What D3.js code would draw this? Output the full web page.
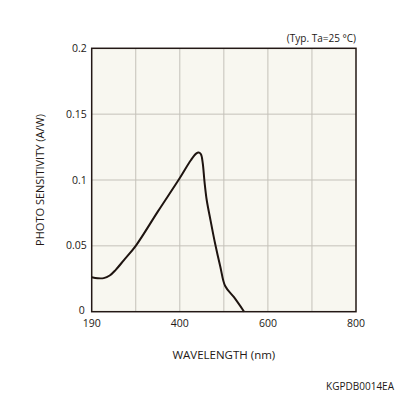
<!DOCTYPE html>
<html><head><meta charset="utf-8">
<script src="https://cdn.jsdelivr.net/npm/d3@7"></script>
<style>body{margin:0;background:#fff}svg{display:block}text{font-family:"Open Sans","Noto Sans",sans-serif;fill:#231815}</style>
</head><body>
<svg id="c" width="396" height="396"></svg>
<script>
const wavelength = [190,205,220,235,250,270,300,350,400,425,437,443,448,452,456,461,470,480,492,503,523,546];
const sensitivity = [0.0262,0.0254,0.0255,0.0275,0.0318,0.0390,0.0500,0.0760,0.1015,0.1150,0.1200,0.1208,0.1195,0.1130,0.0990,0.0850,0.0690,0.0520,0.0342,0.0195,0.0110,0.0];
const xTickLabels = [190,400,600,800];
const xGrid = [300,400,500,600,700];
const yTicks = [0,0.05,0.1,0.15,0.2];

const svg = d3.select("#c");
const L=91.7, R=356, T=48.3, B=311.7;
const x = d3.scaleLinear().domain([190,300,800]).range([L, L+(R-L)/6, R]);
const y = d3.scaleLinear().domain([0,0.2]).range([B,T]);

svg.append("rect").attr("x",L).attr("y",T).attr("width",R-L).attr("height",B-T).attr("fill","#f8f7f0");
svg.append("g").selectAll("line").data(xGrid).join("line")
  .attr("x1",d=>x(d)).attr("x2",d=>x(d)).attr("y1",T).attr("y2",B)
  .attr("stroke","#c4c1b9").attr("stroke-width",1);
svg.append("g").selectAll("line").data(yTicks.slice(1,-1)).join("line")
  .attr("x1",L).attr("x2",R).attr("y1",d=>y(d)).attr("y2",d=>y(d))
  .attr("stroke","#c4c1b9").attr("stroke-width",1);

const line = d3.line().x((d,i)=>x(wavelength[i])).y(d=>y(d)).curve(d3.curveCatmullRom.alpha(0.5));
svg.append("path").datum(sensitivity).attr("d",line).attr("fill","none")
  .attr("stroke","#1e1410").attr("stroke-width",2).attr("stroke-linejoin","round");

svg.append("rect").attr("x",L).attr("y",T).attr("width",R-L).attr("height",B-T)
  .attr("fill","none").attr("stroke","#231815").attr("stroke-width",1.5);

svg.append("g").selectAll("text").data(yTicks).join("text")
  .attr("x",d=>d===0?L-7:L-5).attr("y",d=>d===0?y(d)+2:y(d)+3.5).attr("text-anchor","end").attr("font-size",10.5)
  .text(d=>d===0?"0":String(d));
svg.append("g").selectAll("text").data(xTickLabels).join("text")
  .attr("x",d=>d===190?L:x(d)).attr("y",B+15).attr("text-anchor","middle").attr("font-size",10.5)
  .text(d=>d);

svg.append("text").attr("x",R).attr("y",T-6).attr("text-anchor","end").attr("font-size",10).text("(Typ. Ta=25 °C)");
svg.append("text").attr("transform",`translate(44,${(T+B)/2}) rotate(-90)`).attr("text-anchor","middle")
  .attr("font-size",11).text("PHOTO SENSITIVITY (A/W)");
svg.append("text").attr("x",(L+R)/2).attr("y",359).attr("text-anchor","middle").attr("font-size",11.5).text("WAVELENGTH (nm)");
svg.append("text").attr("x",394).attr("y",390).attr("text-anchor","end").attr("font-size",10).text("KGPDB0014EA");
</script>
</body></html>
